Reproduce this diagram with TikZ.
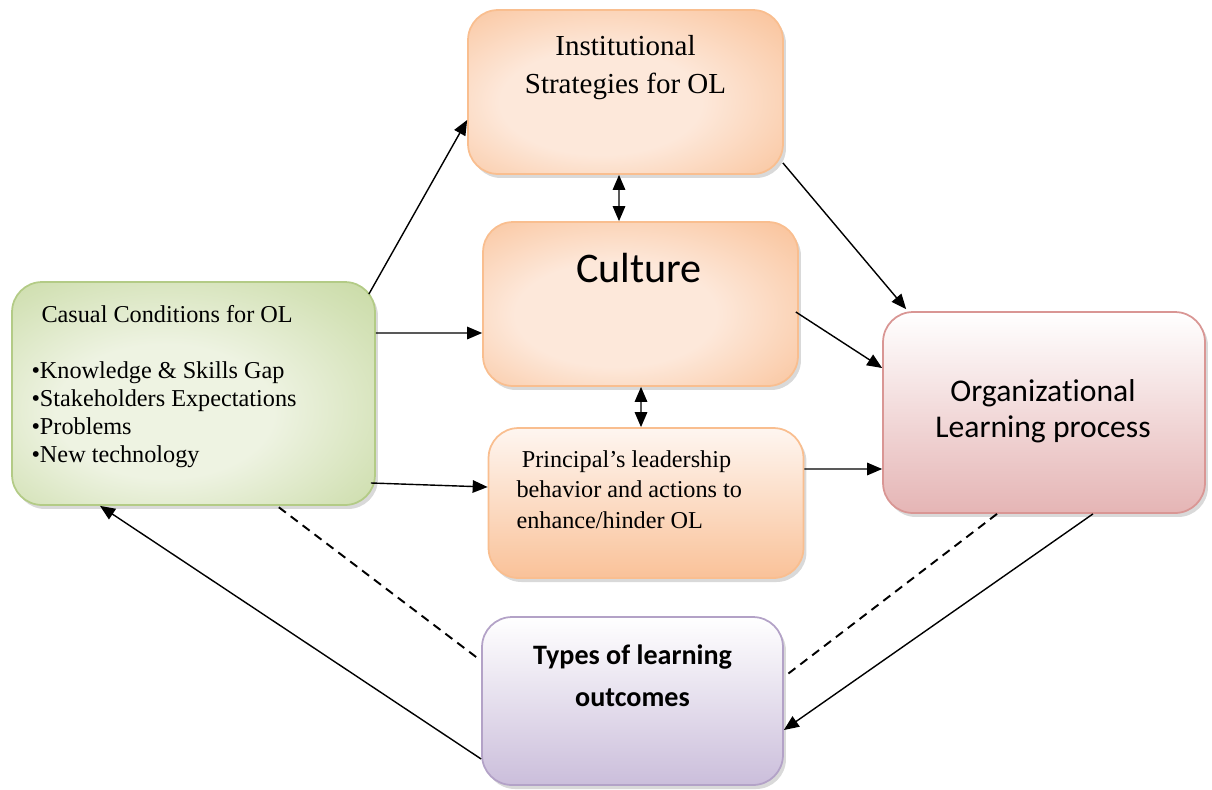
\documentclass[tikz,border=0pt]{standalone}
\usepackage{fontspec}
\setmainfont{Liberation Serif}
\newfontfamily\calibri[Ligatures=NoCommon]{Carlito}
\usetikzlibrary{arrows.meta,shadows}

\definecolor{grdark}{HTML}{BFD495}
\definecolor{grlight}{HTML}{EEF3E2}
\definecolor{grline}{HTML}{B3CB86}
\definecolor{ordark}{HTML}{F8B583}
\definecolor{orlight}{HTML}{FDE8DA}
\definecolor{orline}{HTML}{F9BE8F}
\definecolor{pkdark}{HTML}{E5B5B5}
\definecolor{pkline}{HTML}{D99694}
\definecolor{pudark}{HTML}{CBBEDB}
\definecolor{puline}{HTML}{B3A2C7}

% soft glow: light middle, colour towards the edges
\pgfdeclareradialshading{greenglow}{\pgfpoint{-5bp}{-5bp}}{color(0bp)=(grlight); color(15bp)=(grlight);
  color(31bp)=(grdark!55!grlight); color(46bp)=(grdark); color(75bp)=(grdark)}
\pgfdeclareradialshading{orangeglow}{\pgfpoint{-5bp}{-4bp}}{color(0bp)=(orlight); color(16bp)=(orlight);
  color(31bp)=(ordark!50!orlight); color(46bp)=(ordark); color(75bp)=(ordark)}

\tikzset{
  box/.style={rounded corners=0.6cm, line width=1pt, inner sep=0pt,
    drop shadow={shadow xshift=0.06cm, shadow yshift=-0.08cm, opacity=0.3}},
  greenbox/.style={box, draw=grline, shading=greenglow},
  orangebox/.style={box, draw=orline, shading=orangeglow},
  leadbox/.style={box, draw=orline, top color=orlight!40!white, bottom color=ordark!75!orlight},
  pinkbox/.style={box, draw=pkline, top color=white, bottom color=pkdark},
  purplebox/.style={box, draw=puline, top color=white, bottom color=pudark},
  txt/.style={inner sep=0pt},
  arr/.style={-{Triangle[length=0.3cm,width=0.25cm]}, line width=0.8pt},
  dblarr/.style={{Triangle[length=0.3cm,width=0.25cm]}-{Triangle[length=0.3cm,width=0.25cm]}, line width=0.8pt},
  dashline/.style={line width=1.1pt, dash pattern=on 5pt off 3.5pt}
}

\begin{document}
\begin{tikzpicture}[x=0.02cm,y=-0.02cm]
\useasboundingbox (0,0) rectangle (1212,789);

% boxes
\node[greenbox, minimum width=7.26cm, minimum height=4.46cm] (cond) at (193.5,393.5) {};
\node[orangebox, minimum width=6.3cm, minimum height=3.28cm] (strat) at (625.5,92) {};
\node[orangebox, minimum width=6.3cm, minimum height=3.28cm] (cult) at (640.5,304) {};
\node[leadbox, minimum width=6.3cm, minimum height=3.0cm] (lead) at (646,503) {};
\node[pinkbox, minimum width=6.44cm, minimum height=4.02cm] (olp) at (1044,412.5) {};
\node[purplebox, minimum width=6.02cm, minimum height=3.36cm] (out) at (632.5,701) {};

% box texts
\node[txt, anchor=north west, align=left, font=\fontsize{13.8}{15.9}\selectfont]
  (condtxt) at ([xshift=0.4cm,yshift=-0.48cm]cond.north west)
  {\hspace*{0.2cm}Casual Conditions for OL\\[15.9pt]
   \textbullet Knowledge \& Skills Gap\\
   \textbullet Stakeholders Expectations\\
   \textbullet Problems\\
   \textbullet New technology};
\node[txt, anchor=north, align=center, font=\fontsize{16.5}{21.5}\selectfont]
  (strattxt) at ([yshift=-0.52cm]strat.north) {Institutional\\Strategies for OL};
\node[txt, anchor=north, font=\calibri\fontsize{24}{28}\selectfont]
  (culttxt) at ([xshift=-0.03cm,yshift=-0.64cm]cult.north) {Culture};
\node[txt, anchor=north west, align=left, font=\fontsize{13.8}{17.3}\selectfont]
  (leadtxt) at ([xshift=0.57cm,yshift=-0.46cm]lead.north west)
  {\hspace*{3pt}Principal’s leadership\\behavior and actions to\\enhance/hinder OL};
\node[txt, anchor=north, align=center, font=\calibri\fontsize{18}{20.4}\selectfont]
  (olptxt) at ([xshift=-0.02cm,yshift=-1.36cm]olp.north) {Organizational\\Learning process};
\node[txt, anchor=north, align=center, font=\calibri\bfseries\fontsize{16}{23.8}\selectfont]
  (outtxt) at ([yshift=-0.56cm]out.north) {Types of learning\\outcomes};

% connectors
\draw[arr] ([xshift=-0.14cm,yshift=-0.26cm]cond.north east) -- ([yshift=-0.56cm]strat.west);
\draw[arr] ([yshift=1.21cm]cond.east) -- ([yshift=-0.58cm]cult.west);
\draw[arr] ([xshift=-0.1cm,yshift=-1.79cm]cond.east) -- ([yshift=0.32cm]lead.west);
\draw[arr] ([xshift=-0.02cm,yshift=0.24cm]strat.south east) -- ([xshift=0.48cm,yshift=0.04cm]olp.north west);
\draw[arr] ([xshift=-0.06cm,yshift=-0.16cm]cult.east) -- ([yshift=0.89cm]olp.west);
\draw[arr] ([yshift=0.68cm]lead.east) -- ([yshift=-1.13cm]olp.west);
\draw[dblarr] ([xshift=-0.13cm]strat.south) -- ([xshift=-0.43cm]cult.north);
\draw[dblarr] ([xshift=0.01cm]cult.south) -- ([xshift=-0.1cm]lead.north);
\draw[arr] ([xshift=0.98cm]olp.south) -- ([yshift=-0.58cm]out.east);
\draw[dashline] ([xshift=-0.94cm]olp.south) -- ([yshift=0.48cm]out.east);
\draw[arr] ([yshift=-1.16cm]out.west) -- ([xshift=-1.87cm]cond.south);
\draw[dashline] ([xshift=-0.1cm,yshift=0.88cm]out.west) -- ([xshift=1.67cm]cond.south);
\end{tikzpicture}
\end{document}
